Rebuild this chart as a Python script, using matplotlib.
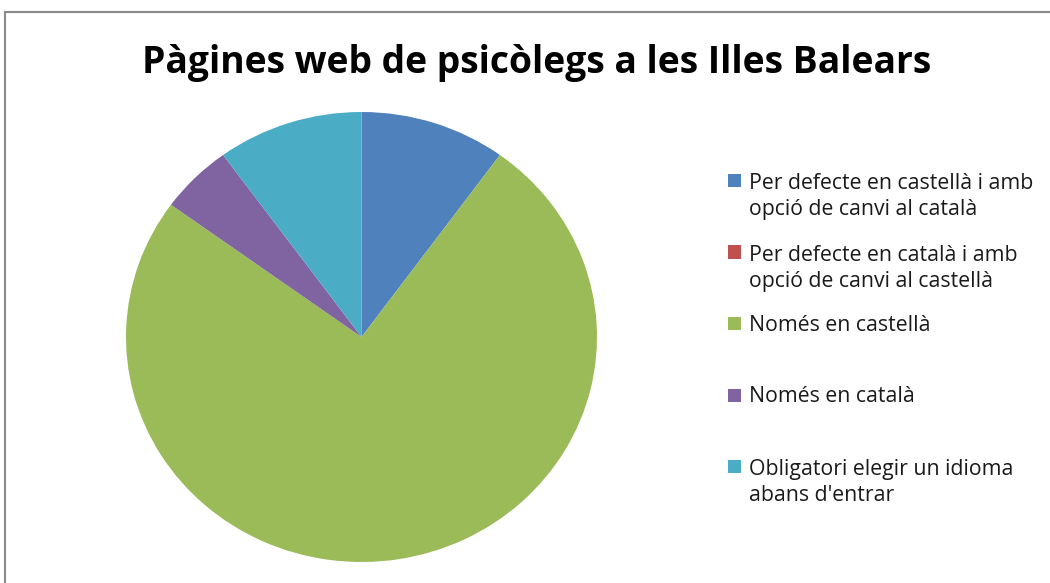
import matplotlib.pyplot as plt
from matplotlib.patches import Rectangle

# data
labels = [
    "Per defecte en castellà i amb\nopció de canvi al català",
    "Per defecte en català i amb\nopció de canvi al castellà",
    "Només en castellà",
    "Només en català",
    "Obligatori elegir un idioma\nabans d'entrar",
]
values = [2, 0, 15, 1, 2]
colors = ["#4F81BD", "#C0504D", "#9BBB59", "#8064A2", "#4BACC6"]

title = "Pàgines web de psicòlegs a les Illes Balears"

W, H = 1050, 583
fig = plt.figure(figsize=(W / 100, H / 100), dpi=100)
plt.rcParams['font.family'] = ['Open Sans', 'DejaVu Sans']

# chart frame (cut off at right and bottom like the reference)
fig.patches.append(Rectangle((5 / W, -0.1), 2, 1 - 12 / H + 0.1,
                             transform=fig.transFigure, fill=False,
                             edgecolor="#8a8a8a", linewidth=1.5))

# pie area (slightly wider than tall in the reference)
left, right, top, bottom = 126, 597, 112, 562
ax = fig.add_axes([left / W, 1 - bottom / H, (right - left) / W, (bottom - top) / H])
ax.pie(values, colors=colors, startangle=90, counterclock=False,
       radius=1, wedgeprops=dict(linewidth=0))
ax.set_aspect('auto')
ax.set_xlim(-1, 1)
ax.set_ylim(-1, 1)
ax.axis('off')

fig.text(537 / W, 1 - 73 / H, title, ha='center', va='baseline',
         fontsize=26.8, fontweight='bold')

# legend, one slot every ~71 px; baseline given for the last line
first_y = 180
slot = 71.5
line_px = 27
for i, (lab, col) in enumerate(zip(labels, colors)):
    yc = first_y + i * slot
    fig.patches.append(Rectangle((728 / W, 1 - (yc + 7) / H), 13 / W, 13 / H,
                                 transform=fig.transFigure, facecolor=col,
                                 edgecolor='none'))
    extra = lab.count("\n") * line_px
    fig.text(749 / W, 1 - (yc + 8 + extra) / H, lab, ha='left', va='baseline',
             fontsize=15.3, linespacing=1.31, color='#1a1a1a')

fig.savefig("out.png", dpi=100)
